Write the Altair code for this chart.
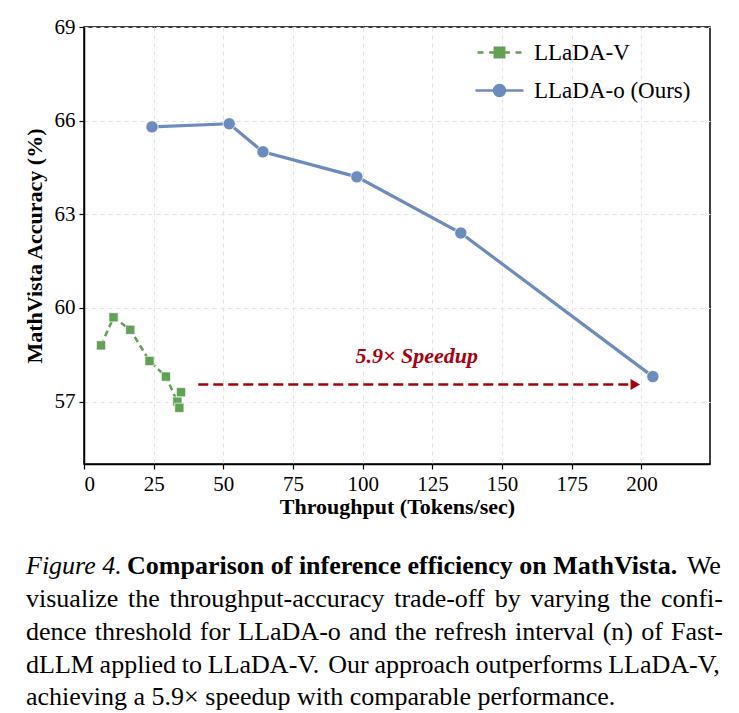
import altair as alt
import pandas as pd

# ---------------- data ----------------
series_names = ["LLaDA-V", "LLaDA-o (Ours)"]
llada_v_x = [6.1, 10.6, 16.6, 23.5, 29.4, 33.5, 34.2, 34.8]
llada_v_y = [58.8, 59.7, 59.3, 58.3, 57.8, 57.0, 56.8, 57.3]
llada_o_x = [24.4, 52.1, 64.2, 97.9, 135.2, 204.1]
llada_o_y = [65.8, 65.9, 65.0, 64.2, 62.4, 57.8]

arrow_x = [41.0, 197.0]
arrow_y = [57.55, 57.55]
arrow_head_x = [197.8]
arrow_head_y = [57.55]
note_text = ["5.9× Speedup"]
note_x = [119.4]
note_y = [58.46]

x_ticks = [0, 25, 50, 75, 100, 125, 150, 175, 200]
y_ticks = [57, 60, 63, 66, 69]

caption_lines = [
    [("Figure 4.", "I"), ("Comparison of inference efficiency on MathVista.", "B"), ("We", "R")],
    [(w, "R") for w in "visualize the throughput-accuracy trade-off by varying the confi-".split()],
    [(w, "R") for w in "dence threshold for LLaDA-o and the refresh interval (n) of Fast-".split()],
    [(w, "R") for w in "dLLM applied to LLaDA-V. Our approach outperforms LLaDA-V,".split()],
    [("achieving a 5.9× speedup with comparable performance.", "R")],
]

# ---------------- colours / fonts ----------------
GREEN = "#62a055"
BLUE = "#6c8cbe"
RED = "#a8000c"
SERIF = "Liberation Serif"

W, H = 626, 437
PAD_L, PAD_T = 84, 27

# ---------------- tables ----------------
df = pd.concat([
    pd.DataFrame({"x": llada_v_x, "y": llada_v_y, "series": series_names[0],
                  "order": range(len(llada_v_x))}),
    pd.DataFrame({"x": llada_o_x, "y": llada_o_y, "series": series_names[1],
                  "order": range(len(llada_o_x))}),
], ignore_index=True)

arrow_df = pd.DataFrame({"x": arrow_x, "y": arrow_y})
head_df = pd.DataFrame({"x": arrow_head_x, "y": arrow_head_y})
note_df = pd.DataFrame({"x": note_x, "y": note_y, "t": note_text})

# Times-compatible advance widths (per 1000 em) for caption justification
REG = {' ': 250, 'a': 444, 'b': 500, 'c': 444, 'd': 500, 'e': 444, 'f': 333, 'g': 500, 'h': 500,
       'i': 278, 'j': 278, 'k': 500, 'l': 278, 'm': 778, 'n': 500, 'o': 500, 'p': 500, 'q': 500,
       'r': 333, 's': 389, 't': 278, 'u': 500, 'v': 500, 'w': 722, 'x': 500, 'y': 500, 'z': 444,
       'A': 722, 'D': 722, 'F': 556, 'L': 611, 'M': 889, 'O': 722, 'V': 722, 'W': 944,
       '-': 333, '.': 250, ',': 250, '(': 333, ')': 333, '5': 500, '9': 500, '×': 564}
BOLD = {' ': 250, 'C': 722, 'M': 944, 'V': 722, 'a': 500, 'c': 444, 'e': 444, 'f': 333, 'h': 556,
        'i': 278, 'm': 833, 'n': 556, 'o': 500, 'p': 556, 'r': 444, 's': 389, 't': 333, 'y': 500,
        '.': 250}
ITAL = {' ': 250, 'F': 611, 'i': 278, 'g': 500, 'u': 500, 'r': 389, 'e': 444, '4': 500, '.': 250}
TABLES = {"R": REG, "B": BOLD, "I": ITAL}

CAP_FS = 26
CAP_X0, CAP_X1 = 26 - PAD_L, 723 - PAD_L
CAP_BASE = [574, 607, 640, 673, 705]
LINE1_STARTS = [26 - PAD_L, 127 - PAD_L, None]   # italic, bold, last word right-flushed


def tw(word, style):
    t = TABLES[style]
    return sum(t.get(c, 500) for c in word) / 1000.0 * CAP_FS


rows = []
for li, line in enumerate(caption_lines):
    yb = CAP_BASE[li] - PAD_T
    if li == 0:
        for (w, s), x0 in zip(line, LINE1_STARTS):
            px = x0 if x0 is not None else CAP_X1 - tw(w, s)
            rows.append({"word": w, "style": s, "px": px, "py": yb})
        continue
    if len(line) == 1:
        rows.append({"word": line[0][0], "style": line[0][1], "px": CAP_X0, "py": yb})
        continue
    widths = [tw(w, s) for w, s in line]
    gap = (CAP_X1 - CAP_X0 - sum(widths)) / (len(line) - 1)
    xc = CAP_X0
    for (w, s), wd in zip(line, widths):
        rows.append({"word": w, "style": s, "px": xc, "py": yb})
        xc += wd + gap
cap_df = pd.DataFrame(rows)

# ---------------- scales ----------------
xs = alt.Scale(domain=[0, 224.6], nice=False, zero=False)
ys = alt.Scale(domain=[55, 69], nice=False, zero=False)

X = alt.X("x:Q", scale=xs, axis=alt.Axis(values=x_ticks, title="Throughput (Tokens/sec)",
                                          titlePadding=2))
Y = alt.Y("y:Q", scale=ys, axis=alt.Axis(values=y_ticks, title="MathVista Accuracy (%)",
                                          titlePadding=8))

base = alt.Chart(df)

line_v = base.transform_filter(alt.datum.series == series_names[0]).mark_line(
    color=GREEN, strokeWidth=2.5, strokeDash=[6, 4]).encode(x=X, y=Y, order="order:Q")
pts_v = base.transform_filter(alt.datum.series == series_names[0]).mark_point(
    shape="square", filled=True, size=85, color=GREEN, stroke="white", strokeWidth=0.7,
    opacity=1).encode(x="x:Q", y="y:Q")
line_o = base.transform_filter(alt.datum.series == series_names[1]).mark_line(
    color=BLUE, strokeWidth=3.2).encode(x="x:Q", y="y:Q", order="order:Q")
pts_o = base.transform_filter(alt.datum.series == series_names[1]).mark_point(
    shape="circle", filled=True, size=150, color=BLUE, stroke="white", strokeWidth=0.8,
    opacity=1).encode(x="x:Q", y="y:Q")

# legend symbols: line + marker as custom paths (scaled by sqrt(size)/2 = 4 px/unit)
green_sym = ("M-5.5,0L-4,0M-2.6,0L-1.2,0M1.2,0L2.6,0M4,0L5.5,0"
             "M-1.15,-1.15L1.15,-1.15L1.15,1.15L-1.15,1.15Z")
blue_sym = "M-6,0L6,0M1.35,0A1.35,1.35 0 1,1 -1.35,0A1.35,1.35 0 1,1 1.35,0Z"

leg = alt.Legend(title=None, orient="none", legendX=404, legendY=14, padding=0,
                 labelFont=SERIF, labelFontSize=23, labelColor="black", labelOffset=23,
                 symbolSize=64, symbolStrokeWidth=2.7, rowPadding=14, labelLimit=400)
legend_layer = base.transform_filter("false").mark_point(filled=True, opacity=1).encode(
    x="x:Q", y="y:Q",
    fill=alt.Fill("series:N", scale=alt.Scale(domain=series_names, range=[GREEN, BLUE]), legend=leg),
    stroke=alt.Stroke("series:N", scale=alt.Scale(domain=series_names, range=[GREEN, BLUE]), legend=leg),
    shape=alt.Shape("series:N", scale=alt.Scale(domain=series_names, range=[green_sym, blue_sym]), legend=leg),
)

arrow_line = alt.Chart(arrow_df).mark_line(color=RED, strokeWidth=2.5, strokeDash=[10, 5]).encode(
    x="x:Q", y="y:Q")
arrow_head = alt.Chart(head_df).mark_point(shape="triangle-right", filled=True, color=RED,
                                           size=120, opacity=1).encode(x="x:Q", y="y:Q")
note = alt.Chart(note_df).mark_text(font=SERIF, fontSize=22, fontWeight="bold", fontStyle="italic",
                                    color=RED, align="center", baseline="middle").encode(
    x="x:Q", y="y:Q", text="t:N")

cap_layers = []
for st, kw in [("R", {}), ("B", {"fontWeight": "bold"}), ("I", {"fontStyle": "italic"})]:
    cap_layers.append(
        alt.Chart(cap_df).transform_filter(alt.datum.style == st).mark_text(
            font=SERIF, fontSize=CAP_FS, color="black", align="left", baseline="alphabetic", **kw
        ).encode(x=alt.X("px:Q", scale=None, axis=None), y=alt.Y("py:Q", scale=None, axis=None),
                 text="word:N")
    )

chart = alt.layer(
    line_v, line_o, pts_v, pts_o, arrow_line, arrow_head, note, legend_layer, *cap_layers
).properties(
    width=W, height=H,
    autosize=alt.AutoSizeParams(type="none"),
    padding={"left": PAD_L, "top": PAD_T, "right": 739 - PAD_L - W, "bottom": 713 - PAD_T - H},
    background="white",
).configure_view(
    stroke="black", strokeWidth=1.5
).configure_axis(
    labelFont=SERIF, labelFontSize=21, labelColor="black", labelPadding=4,
    titleFont=SERIF, titleFontSize=22, titleFontWeight="bold", titleColor="black",
    domainColor="black", domainWidth=1.5, tickColor="black", tickSize=5, tickWidth=1.2,
    gridColor="#e4e4e4", gridDash=[4, 4], gridWidth=1,
)

chart.save("out.html", embed_options={"renderer": "svg", "actions": False})
